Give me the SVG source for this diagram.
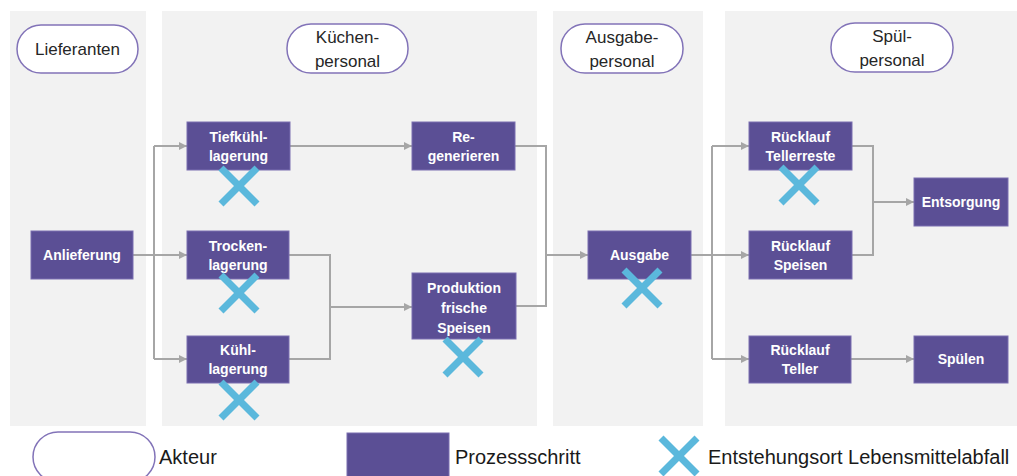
<svg xmlns="http://www.w3.org/2000/svg" width="1017" height="476" viewBox="0 0 1017 476">
<defs>
<style>
.lane{fill:#f2f2f2}
.actor{fill:#ffffff;stroke:#8273b8;stroke-width:1.5}
.atext{font-family:"Liberation Sans",Arial,sans-serif;font-size:17px;fill:#262626;text-anchor:middle}
.proc{fill:#5b4f95;stroke:#7a6eb0;stroke-width:1}
.ptext{font-family:"Liberation Sans",Arial,sans-serif;font-size:14px;font-weight:bold;fill:#ffffff;text-anchor:middle}
.conn{fill:none;stroke:#a6a6a6;stroke-width:2}
.x{stroke:#5bb8dc;stroke-width:7;stroke-linecap:butt}
.ltext{font-family:"Liberation Sans",Arial,sans-serif;font-size:20px;fill:#1a1a1a}
</style>
<marker id="arr" viewBox="0 0 10 10" refX="10" refY="5" markerWidth="4" markerHeight="4" orient="auto" markerUnits="strokeWidth">
<path d="M0,0 L10,5 L0,10 z" fill="#a6a6a6"/>
</marker>
<g id="cross"><line class="x" x1="-18" y1="-18" x2="18" y2="18"/><line class="x" x1="18" y1="-18" x2="-18" y2="18"/></g>
</defs>

<g id="lanes">
<rect class="lane" x="10" y="11" width="136" height="415"/>
<rect class="lane" x="162" y="11" width="375" height="415"/>
<rect class="lane" x="553" y="11" width="150" height="415"/>
<rect class="lane" x="725" y="11" width="292" height="415"/>
</g>

<g id="actor-lieferanten"><rect class="actor" x="17" y="25" width="121" height="48" rx="24"/><text class="atext" x="77.5" y="55">Lieferanten</text></g>
<g id="actor-kuechen"><rect class="actor" x="287" y="24" width="121" height="49" rx="24"/><text class="atext" x="347.5" y="43">Küchen-</text><text class="atext" x="347.5" y="67">personal</text></g>
<g id="actor-ausgabe"><rect class="actor" x="561" y="24" width="122" height="49" rx="24"/><text class="atext" x="622" y="43">Ausgabe-</text><text class="atext" x="622" y="67">personal</text></g>
<g id="actor-spuel"><rect class="actor" x="831" y="23" width="122" height="49" rx="24"/><text class="atext" x="892" y="42">Spül-</text><text class="atext" x="892" y="66">personal</text></g>

<g id="connectors">
<path class="conn" d="M133,255 H154 M154,146 V359"/>
<path class="conn" d="M154,146 H187" marker-end="url(#arr)"/>
<path class="conn" d="M154,255 H187" marker-end="url(#arr)"/>
<path class="conn" d="M154,359 H187" marker-end="url(#arr)"/>
<path class="conn" d="M290,146 H412" marker-end="url(#arr)"/>
<path class="conn" d="M289,255 H330 V359 H289"/>
<path class="conn" d="M330,307 H412" marker-end="url(#arr)"/>
<path class="conn" d="M515,146 H546 V306 H516"/>
<path class="conn" d="M546,255 H588" marker-end="url(#arr)"/>
<path class="conn" d="M691,255 H712 M712,146 V359"/>
<path class="conn" d="M712,146 H749" marker-end="url(#arr)"/>
<path class="conn" d="M712,255 H749" marker-end="url(#arr)"/>
<path class="conn" d="M712,359 H749" marker-end="url(#arr)"/>
<path class="conn" d="M852,146 H873 V255 H852"/>
<path class="conn" d="M873,202 H914" marker-end="url(#arr)"/>
<path class="conn" d="M851,359 H914" marker-end="url(#arr)"/>
</g>

<g id="node-anlieferung"><rect class="proc" x="31" y="231" width="102" height="48"/><text class="ptext" x="82" y="260">Anlieferung</text></g>
<g id="node-tiefkuehl"><rect class="proc" x="187" y="122" width="103" height="48"/><text class="ptext" x="238.5" y="142">Tiefkühl-</text><text class="ptext" x="238.5" y="161">lagerung</text></g>
<g id="node-trocken"><rect class="proc" x="187" y="231" width="102" height="48"/><text class="ptext" x="238" y="251">Trocken-</text><text class="ptext" x="238" y="270">lagerung</text></g>
<g id="node-kuehl"><rect class="proc" x="187" y="336" width="102" height="47"/><text class="ptext" x="238" y="355">Kühl-</text><text class="ptext" x="238" y="374">lagerung</text></g>
<g id="node-regenerieren"><rect class="proc" x="412" y="122" width="103" height="48"/><text class="ptext" x="463.5" y="142">Re-</text><text class="ptext" x="463.5" y="161">generieren</text></g>
<g id="node-produktion"><rect class="proc" x="412" y="273" width="104" height="66"/><text class="ptext" x="464" y="293">Produktion</text><text class="ptext" x="464" y="313">frische</text><text class="ptext" x="464" y="333">Speisen</text></g>
<g id="node-ausgabe"><rect class="proc" x="588" y="231" width="103" height="48"/><text class="ptext" x="639.5" y="260">Ausgabe</text></g>
<g id="node-ruecklauf-tellerreste"><rect class="proc" x="749" y="122" width="103" height="48"/><text class="ptext" x="800.5" y="142">Rücklauf</text><text class="ptext" x="800.5" y="161">Tellerreste</text></g>
<g id="node-ruecklauf-speisen"><rect class="proc" x="749" y="231" width="103" height="48"/><text class="ptext" x="800.5" y="251">Rücklauf</text><text class="ptext" x="800.5" y="270">Speisen</text></g>
<g id="node-ruecklauf-teller"><rect class="proc" x="749" y="336" width="102" height="47"/><text class="ptext" x="800" y="355">Rücklauf</text><text class="ptext" x="800" y="374">Teller</text></g>
<g id="node-entsorgung"><rect class="proc" x="914" y="178" width="94" height="48"/><text class="ptext" x="961" y="207">Entsorgung</text></g>
<g id="node-spuelen"><rect class="proc" x="914" y="336" width="94" height="47"/><text class="ptext" x="961" y="364">Spülen</text></g>

<g id="waste-markers">
<use href="#cross" x="239" y="186"/>
<use href="#cross" x="239" y="293"/>
<use href="#cross" x="239" y="400"/>
<use href="#cross" x="463" y="357"/>
<use href="#cross" x="642" y="288"/>
<use href="#cross" x="799" y="185"/>
</g>

<g id="legend">
<rect class="actor" x="33" y="432" width="122" height="50" rx="25"/>
<text class="ltext" x="159" y="464">Akteur</text>
<rect class="proc" x="347" y="433" width="102" height="50"/>
<text class="ltext" x="455" y="464">Prozessschritt</text>
<use href="#cross" x="679" y="456"/>
<text class="ltext" x="708" y="464">Entstehungsort Lebensmittelabfall</text>
</g>
</svg>
